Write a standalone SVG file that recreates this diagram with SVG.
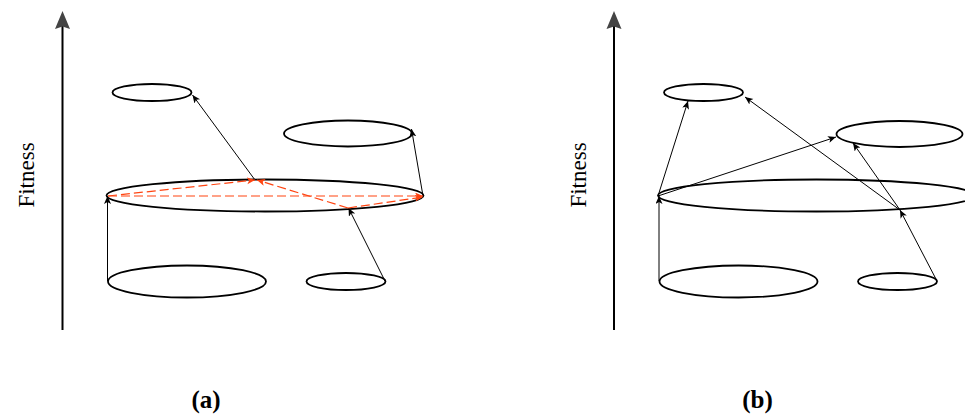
<svg xmlns="http://www.w3.org/2000/svg" width="965" height="414" viewBox="0 0 965 414">
  <style>
    .pop { fill: none; stroke: #000; stroke-width: 1.8; }
    .axis { stroke: #000; stroke-width: 2; fill: none; }
    .link { stroke: #000; stroke-width: 1; fill: none; marker-end: url(#tip); }
    .cross { stroke: #ff4411; stroke-width: 1.2; fill: none; stroke-dasharray: 9 4; marker-end: url(#tipRed); }
    .ylabel { font-family: "Liberation Serif", "DejaVu Serif", serif; font-size: 23px; fill: #000; }
    .caption { font-family: "Liberation Serif", "DejaVu Serif", serif; font-size: 25px; font-weight: bold; fill: #000; }
  </style>
  <defs>
    <marker id="tip" markerUnits="userSpaceOnUse" markerWidth="10" markerHeight="8" refX="8" refY="3.5" orient="auto">
      <path d="M0,0 L8,3.5 L0,7 L2,3.5 z" fill="#000"/>
    </marker>
    <marker id="tipRed" markerUnits="userSpaceOnUse" markerWidth="10" markerHeight="8" refX="8" refY="3.5" orient="auto">
      <path d="M0,0 L8,3.5 L0,7 L2,3.5 z" fill="#ff4411"/>
    </marker>
  </defs>

  <!-- panel (a) -->
  <g id="axis-a">
    <line class="axis" x1="62.5" y1="330" x2="62.5" y2="26"/>
    <path d="M62.5,11 L70,29 L62.5,26.5 L55,29 z" fill="#444"/>
    <text class="ylabel" transform="translate(34,175) rotate(-90)" text-anchor="middle">Fitness</text>
  </g>
  <g id="a-bottom-left"><ellipse class="pop" cx="187" cy="281.5" rx="79" ry="16"/></g>
  <g id="a-bottom-right"><ellipse class="pop" cx="346" cy="281.5" rx="39.5" ry="8.5"/></g>
  <g id="a-middle"><ellipse class="pop" cx="265" cy="195.5" rx="158.5" ry="16"/></g>
  <g id="a-top-left"><ellipse class="pop" cx="152" cy="92.5" rx="39.5" ry="8.5"/></g>
  <g id="a-top-right"><ellipse class="pop" cx="348" cy="133.5" rx="64" ry="13"/></g>
  <g id="a-links">
    <line class="link" x1="107.5" y1="281" x2="107.5" y2="196"/>
    <line class="link" x1="385" y1="281" x2="348.5" y2="208"/>
    <line class="link" x1="255" y1="180" x2="192.5" y2="95"/>
    <line class="link" x1="423" y1="196" x2="411.5" y2="129"/>
    <line class="cross" x1="108" y1="196" x2="255" y2="180"/>
    <line class="cross" x1="108" y1="196" x2="423" y2="196"/>
    <line class="cross" x1="348" y1="208" x2="257" y2="180"/>
    <line class="cross" x1="348" y1="208" x2="423" y2="197"/>
  </g>
  <text class="caption" x="206" y="408" text-anchor="middle">(a)</text>

  <!-- panel (b) -->
  <g id="axis-b">
    <line class="axis" x1="614" y1="330" x2="614" y2="26"/>
    <path d="M614,11 L621.5,29 L614,26.5 L606.5,29 z" fill="#444"/>
    <text class="ylabel" transform="translate(585.5,175) rotate(-90)" text-anchor="middle">Fitness</text>
  </g>
  <g id="b-bottom-left"><ellipse class="pop" cx="738.5" cy="281.5" rx="79" ry="16"/></g>
  <g id="b-bottom-right"><ellipse class="pop" cx="897.5" cy="281.5" rx="39.5" ry="8.5"/></g>
  <g id="b-middle"><ellipse class="pop" cx="816.5" cy="195.5" rx="158.5" ry="16"/></g>
  <g id="b-top-left"><ellipse class="pop" cx="703.5" cy="92.5" rx="39.5" ry="8.5"/></g>
  <g id="b-top-right"><ellipse class="pop" cx="899.5" cy="134" rx="63" ry="13"/></g>
  <g id="b-links">
    <line class="link" x1="659" y1="281" x2="659" y2="196"/>
    <line class="link" x1="658" y1="196" x2="688" y2="101"/>
    <line class="link" x1="658" y1="196" x2="836" y2="137"/>
    <line class="link" x1="937" y1="281" x2="900" y2="210"/>
    <line class="link" x1="900" y1="210" x2="745" y2="97"/>
    <line class="link" x1="900" y1="210" x2="853" y2="143"/>
  </g>
  <text class="caption" x="757.5" y="408" text-anchor="middle">(b)</text>
</svg>
